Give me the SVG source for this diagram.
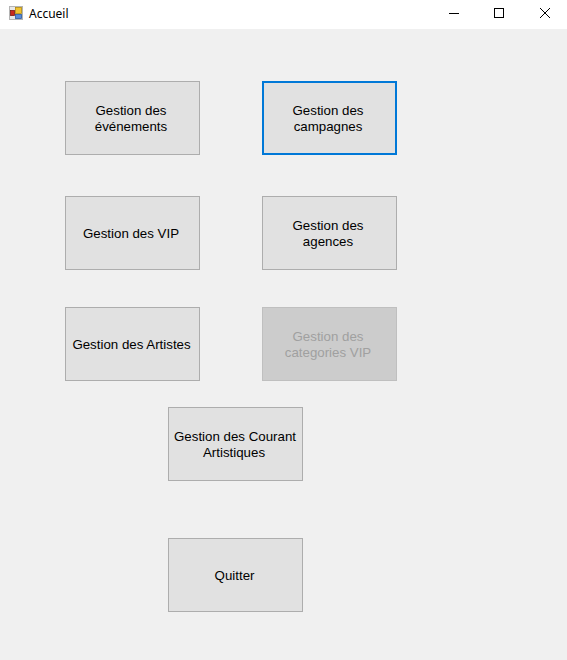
<svg xmlns="http://www.w3.org/2000/svg" width="567" height="660" viewBox="0 0 567 660">
<style>
text{font-family:"Liberation Sans",Arial,sans-serif;font-size:13.3px;fill:#000;text-anchor:middle}
.b{fill:#e1e1e1;stroke:#adadad;stroke-width:1}
.f{fill:#e1e1e1;stroke:#0078d7;stroke-width:2}
.d{fill:#cccccc;stroke:#bfbfbf;stroke-width:1}
.dt{fill:#a0a0a0}
.w{fill:none;stroke:#000;stroke-width:1}
</style>
<rect width="567" height="660" fill="#f0f0f0"/>
<g id="titlebar">
<rect width="567" height="29" fill="#fff"/>
<g id="app-icon">
<rect x="9.500" y="6.500" width="13" height="13" fill="#e8e8e8" stroke="#b4b4b4"/>
<rect x="15.500" y="7.500" width="6" height="6" fill="#f2c230" stroke="#b08a10" stroke-width=".8"/>
<rect x="10.500" y="10.500" width="4" height="5" fill="#c8281e" stroke="#7a1a12" stroke-width=".8"/>
<rect x="15.500" y="14.500" width="6" height="4" fill="#5a8ad8" stroke="#2a5aa0" stroke-width=".8"/>
</g>
<text x="29" y="18" style="text-anchor:start;font-family:'Noto Sans','Liberation Sans',sans-serif;font-size:12px">Accueil</text>
<path class="w" d="M449 13.500H459"/>
<rect class="w" x="494.500" y="8.500" width="9" height="9"/>
<path class="w" d="M540 8L550 18M550 8L540 18"/>
</g>
<g id="btn-evenements"><rect class="b" x="65.500" y="81.500" width="134" height="73"/><text x="131" y="115">Gestion des</text><text x="131" y="131">événements</text></g>
<g id="btn-campagnes"><rect class="f" x="263" y="82" width="133" height="72"/><text x="328" y="115">Gestion des</text><text x="328" y="131">campagnes</text></g>
<g id="btn-vip"><rect class="b" x="65.500" y="196.500" width="134" height="73"/><text x="131" y="238">Gestion des VIP</text></g>
<g id="btn-agences"><rect class="b" x="262.500" y="196.500" width="134" height="73"/><text x="328" y="230">Gestion des</text><text x="328" y="246">agences</text></g>
<g id="btn-artistes"><rect class="b" x="65.500" y="307.500" width="134" height="73"/><text x="131.500" y="349">Gestion des Artistes</text></g>
<g id="btn-categories"><rect class="d" x="262.500" y="307.500" width="134" height="73"/><text class="dt" x="328" y="341">Gestion des</text><text class="dt" x="328" y="357">categories VIP</text></g>
<g id="btn-courants"><rect class="b" x="168.500" y="407.500" width="134" height="73"/><text x="235" y="441">Gestion des Courant</text><text x="234" y="457">Artistiques</text></g>
<g id="btn-quitter"><rect class="b" x="168.500" y="538.500" width="134" height="73"/><text x="234.500" y="580">Quitter</text></g>
</svg>
